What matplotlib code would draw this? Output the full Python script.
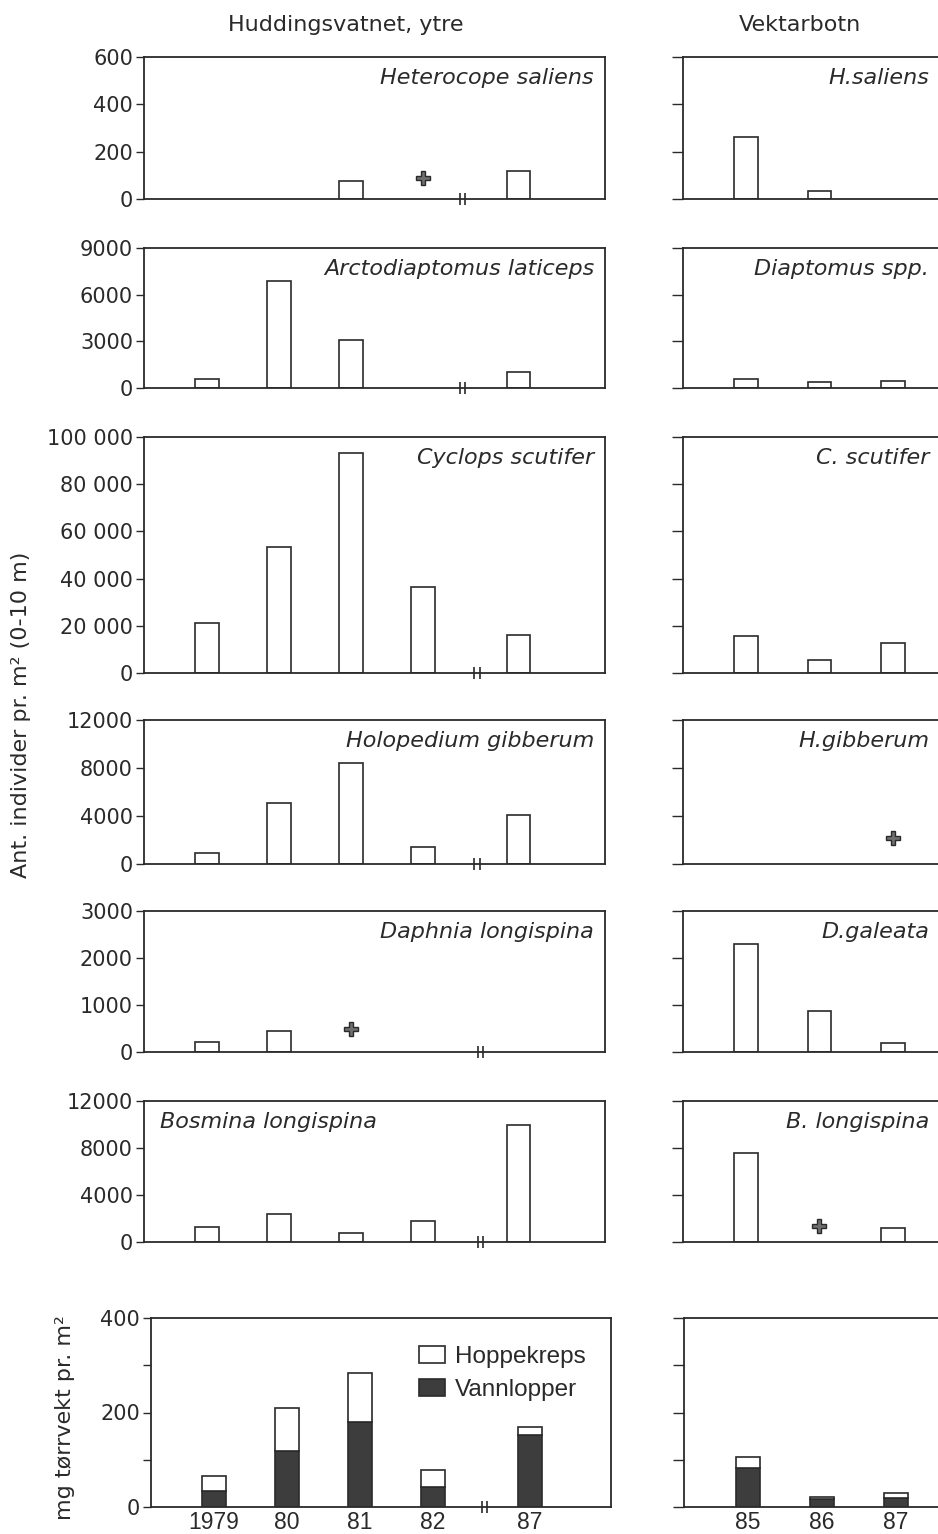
import numpy as np
import matplotlib
matplotlib.use("Agg")
import matplotlib.pyplot as plt
from matplotlib.patches import Patch

nan = np.nan

# ---------------- data ----------------
years_left = ['1979', '80', '81', '82', '87']
years_right = ['85', '86', '87']

species_left = ['Heterocope saliens', 'Arctodiaptomus laticeps', 'Cyclops scutifer',
                'Holopedium gibberum', 'Daphnia longispina', 'Bosmina longispina']
species_right = ['H.saliens', 'Diaptomus spp.', 'C. scutifer',
                 'H.gibberum', 'D.galeata', 'B. longispina']

heterocope_left = [nan, nan, 75, nan, 120]
heterocope_left_plus = [nan, nan, nan, 90, nan]
heterocope_right = [260, 35, nan]
heterocope_right_plus = [nan, nan, nan]

arcto_left = [550, 6900, 3100, nan, 1000]
arcto_left_plus = [nan, nan, nan, nan, nan]
diapt_right = [550, 380, 480]
diapt_right_plus = [nan, nan, nan]

cyclops_left = [21200, 53400, 93200, 36400, 16100]
cyclops_left_plus = [nan, nan, nan, nan, nan]
cyclops_right = [15500, 5500, 12500]
cyclops_right_plus = [nan, nan, nan]

holo_left = [900, 5100, 8400, 1450, 4100]
holo_left_plus = [nan, nan, nan, nan, nan]
holo_right = [nan, nan, nan]
holo_right_plus = [nan, nan, 2200]

daphnia_left = [220, 450, nan, nan, nan]
daphnia_left_plus = [nan, nan, 480, nan, nan]
galeata_right = [2300, 880, 200]
galeata_right_plus = [nan, nan, nan]

bosmina_left = [1300, 2400, 800, 1800, 10000]
bosmina_left_plus = [nan, nan, nan, nan, nan]
bosmina_right = [7600, nan, 1200]
bosmina_right_plus = [nan, 1400, nan]

vann_left = [33, 118, 179, 42, 153]      # Vannlopper (dark)
hoppe_left = [32, 92, 104, 37, 17]       # Hoppekreps (white, stacked)
vann_right = [83, 17, 18]
hoppe_right = [22, 5, 11]

yticks_rows = [[0, 200, 400, 600],
               [0, 3000, 6000, 9000],
               [0, 20000, 40000, 60000, 80000, 100000],
               [0, 4000, 8000, 12000],
               [0, 1000, 2000, 3000],
               [0, 4000, 8000, 12000]]
ytick_labels_rows = [['0', '200', '400', '600'],
                     ['0', '3000', '6000', '9000'],
                     ['0', '20 000', '40 000', '60 000', '80 000', '100 000'],
                     ['0', '4000', '8000', '12000'],
                     ['0', '1000', '2000', '3000'],
                     ['0', '4000', '8000', '12000']]
bio_ticks = [0, 100, 200, 300, 400]
bio_labels = ['0', '', '200', '', '400']

rows_left = [(heterocope_left, heterocope_left_plus), (arcto_left, arcto_left_plus),
             (cyclops_left, cyclops_left_plus), (holo_left, holo_left_plus),
             (daphnia_left, daphnia_left_plus), (bosmina_left, bosmina_left_plus)]
rows_right = [(heterocope_right, heterocope_right_plus), (diapt_right, diapt_right_plus),
              (cyclops_right, cyclops_right_plus), (holo_right, holo_right_plus),
              (galeata_right, galeata_right_plus), (bosmina_right, bosmina_right_plus)]

# ---------------- layout ----------------
W, H = 938, 1534
fig = plt.figure(figsize=(W / 100, H / 100), dpi=100)
INK = '#2a2a2a'
DARK = '#3d3d3d'

# category positions: extra gap after the axis break (between 82 and 87)
pos_left = np.arange(len(years_left)) + np.array([0, 0, 0, 0, 1.33 - 1])
pos_right = np.arange(len(years_right)).astype(float)

row_px = [(57, 199), (248, 388), (437, 673), (720, 864), (911, 1052), (1101, 1242)]
bio_px = (1318, 1507)
break_at = [3.55, 3.55, 3.75, 3.75, 3.8, 3.8]
bio_break = 3.7


def add_ax(l, t, r, b):
    return fig.add_axes([l / W, 1 - b / H, (r - l) / W, (b - t) / H])


def style(ax, ticks, labels, ticklen, right_spine=True):
    for s in ax.spines.values():
        s.set_color(INK)
        s.set_linewidth(1.3)
    ax.spines['right'].set_visible(right_spine)
    ax.set_xticks([])
    ax.set_yticks(ticks)
    ax.set_yticklabels(labels)
    ax.set_ylim(ticks[0], ticks[-1])
    ax.tick_params(axis='y', direction='out', length=ticklen, width=1.0,
                   color=INK, labelcolor=INK, labelsize=15, pad=2)


def draw_break(ax, xb):
    for dx in (-0.035, 0.035):
        ax.plot([xb + dx], [0], marker='|', markersize=9, mew=1.2,
                color=INK, clip_on=False, zorder=5)


bar_w = 0.32
plus_kw = dict(marker='P', linestyle='none', markersize=10.5, mfc='#6e6e6e', mec=INK, mew=1.0)
for i, ((lv, lp), (rv, rp)) in enumerate(zip(rows_left, rows_right)):
    t, b = row_px[i]
    # left column
    axl = add_ax(144, t, 605, b)
    axl.set_xlim(-0.875, 5.528)
    style(axl, yticks_rows[i], ytick_labels_rows[i], 6)
    lv = np.array(lv, float)
    m = ~np.isnan(lv)
    axl.bar(pos_left[m], lv[m], width=bar_w, facecolor='white', edgecolor=INK, linewidth=1.2)
    lp = np.array(lp, float)
    mp = ~np.isnan(lp)
    axl.plot(pos_left[mp], lp[mp], **plus_kw)
    draw_break(axl, break_at[i])

    # right column (cut off at figure edge)
    axr = add_ax(683, t, 960, b)
    axr.set_xlim(-0.857, 2.912)
    style(axr, yticks_rows[i], [''] * len(yticks_rows[i]), 8, right_spine=False)
    rv = np.array(rv, float)
    m = ~np.isnan(rv)
    axr.bar(pos_right[m], rv[m], width=bar_w, facecolor='white', edgecolor=INK, linewidth=1.2)
    rp = np.array(rp, float)
    mp = ~np.isnan(rp)
    axr.plot(pos_right[mp], rp[mp], **plus_kw)

    # species names
    yc = 1 - (t + 21) / H
    if i == 5:
        fig.text(160 / W, yc, species_left[i], ha='left', va='center',
                 fontsize=16, style='italic', color=INK)
    else:
        fig.text(594 / W, yc, species_left[i], ha='right', va='center',
                 fontsize=16, style='italic', color=INK)
    fig.text(929 / W, yc, species_right[i], ha='right', va='center',
             fontsize=16, style='italic', color=INK)

# ---------------- biomass row ----------------
t, b = bio_px
tickfont = ['Liberation Sans Narrow', 'Liberation Sans', 'DejaVu Sans']

axb = add_ax(151, t, 611, b)
axb.set_xlim(-0.863, 5.438)
style(axb, bio_ticks, bio_labels, 6)
axb.bar(pos_left, vann_left, width=bar_w, facecolor=DARK, edgecolor=INK, linewidth=1.2)
axb.bar(pos_left, hoppe_left, bottom=vann_left, width=bar_w, facecolor='white',
        edgecolor=INK, linewidth=1.2)
axb.set_xticks(pos_left)
axb.set_xticklabels(years_left, family=tickfont, fontsize=16.5, color=INK)
axb.tick_params(axis='x', length=0, pad=3)
draw_break(axb, bio_break)
handles = [Patch(facecolor='white', edgecolor=INK, linewidth=1.2, label='Hoppekreps'),
           Patch(facecolor=DARK, edgecolor=INK, linewidth=1.2, label='Vannlopper')]
leg = axb.legend(handles=handles, loc='upper right', bbox_to_anchor=(0.945, 0.85),
                 frameon=False, borderpad=0, borderaxespad=0,
                 handlelength=1.05, handleheight=0.7, handletextpad=0.42,
                 labelspacing=0.45, prop={'family': ['Liberation Sans', 'DejaVu Sans'], 'size': 17.5})
for txt in leg.get_texts():
    txt.set_color(INK)

axb2 = add_ax(684, t, 960, b)
axb2.set_xlim(-0.865, 2.865)
style(axb2, bio_ticks, [''] * 5, 8, right_spine=False)
axb2.bar(pos_right, vann_right, width=bar_w, facecolor=DARK, edgecolor=INK, linewidth=1.2)
axb2.bar(pos_right, hoppe_right, bottom=vann_right, width=bar_w, facecolor='white',
         edgecolor=INK, linewidth=1.2)
axb2.set_xticks(pos_right)
axb2.set_xticklabels(years_right, family=tickfont, fontsize=16.5, color=INK)
axb2.tick_params(axis='x', length=0, pad=3)

# ---------------- titles & axis labels ----------------
fig.text(346 / W, 1 - 25 / H, 'Huddingsvatnet, ytre', ha='center', va='center',
         fontsize=16, color=INK)
fig.text(800 / W, 1 - 25 / H, 'Vektarbotn', ha='center', va='center',
         fontsize=16, color=INK)
fig.text(21 / W, 1 - 715 / H, 'Ant. individer pr. m² (0-10 m)', rotation=90,
         ha='center', va='center', fontsize=16, color=INK)
fig.text(65 / W, 1 - 1418 / H, 'mg tørrvekt pr. m²', rotation=90,
         ha='center', va='center', fontsize=16, color=INK)

fig.savefig('out.png', dpi=100, facecolor='white')
